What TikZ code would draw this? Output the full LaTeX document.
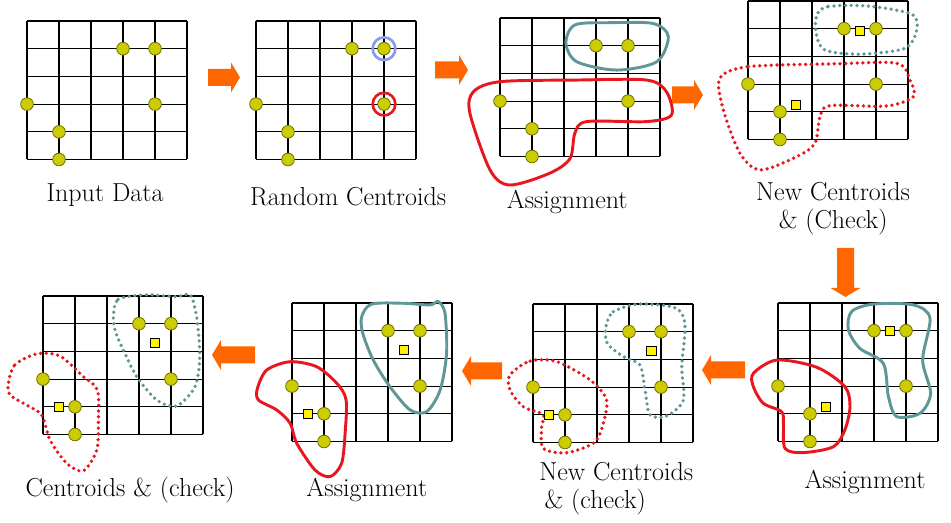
\documentclass[tikz,border=0pt]{standalone}
\usepackage{fontspec}
\usepackage{xcolor}
\usepackage{tikz}

\definecolor{ptfill}{RGB}{204,204,0}
\definecolor{ptline}{RGB}{110,110,0}
\definecolor{clred}{RGB}{232,22,30}
\definecolor{clteal}{RGB}{95,150,150}
\definecolor{clblue}{RGB}{135,155,230}
\definecolor{arrorange}{RGB}{255,102,0}

\tikzset{
  gridline/.style={line width=0.8pt},
  datapt/.style={circle, fill=ptfill, draw=ptline, line width=0.6pt, minimum size=9.5pt, inner sep=0pt},
  centroid/.style={rectangle, fill=yellow, draw=black, line width=0.5pt, minimum size=7pt, inner sep=0pt},
  seedring/.style={circle, draw, line width=2pt, minimum size=17pt, inner sep=0pt},
  cluster/.style={line width=2.2pt, line join=round},
  newcluster/.style={line width=2.8pt, dash pattern=on 0pt off 4.3pt, line cap=round},
  paneltext/.style={font=\fontsize{19.5}{21}\selectfont, align=center},
  pics/fatarrow/.style={code={
    \fill[arrorange] (0,-8.5) -- (#1-9,-8.5) -- (#1-9,-15) -- (#1,0) -- (#1-9,15) -- (#1-9,8.5) -- (0,8.5) -- cycle;}}
}

% 5x5 grid and the six data points of one panel
\newcommand{\kgrid}{\foreach \i in {0,...,5} {\draw[gridline] (\i,0) -- (\i,5); \draw[gridline] (0,\i) -- (5,\i);}}
\newcommand{\kpoints}[1]{\foreach \cx/\cy [count=\k] in {3/1,4/1,0/3,4/3,1/4,1/5} \node[datapt] (#1-\k) at (\cx,\cy) {};}

\begin{document}
\begin{tikzpicture}[x=0.75pt, y=-0.75pt]
    \useasboundingbox (0,0) rectangle (951,523);

    % Input Data
    \begin{scope}[shift={(27,21)}, x=24pt, y=-20.775pt]
        \kgrid
        \kpoints{a}
        \node[paneltext] (ta) at (2.44,6.28) {Input Data};
    \end{scope}

    % Random Centroids
    \begin{scope}[shift={(256,21)}, x=24pt, y=-20.775pt]
        \kgrid
        \kpoints{b}
        \node[seedring, clblue] (sb1) at (b-2) {};
        \node[seedring, clred] (sb2) at (b-4) {};
        \node[paneltext] (tb) at (2.88,6.35) {Random Centroids};
    \end{scope}

    % Assignment
    \begin{scope}[shift={(500,18)}, x=24pt, y=-20.775pt]
        \kgrid
        \draw[cluster, clteal] plot[smooth cycle] coordinates {(2.06,0.91) (2.34,0.25) (3.44,0.17) (4.79,0.2) (5.26,0.67) (4.9,1.58) (3.65,1.88) (2.4,1.58)};
        \draw[cluster, clred] plot[smooth cycle] coordinates {(-0.83,2.66) (0,2.3) (2.4,2.24) (4.58,2.24) (5.2,2.66) (5.36,3.5) (4.58,3.74) (2.71,3.74) (2.34,4.16) (2.19,5.07) (1.56,5.6) (0.31,6.03) (-0.31,5.49) (-0.94,3.44)};
        \kpoints{c}
        \node[paneltext] (tc) at (2.1,6.64) {Assignment};
    \end{scope}

    % New Centroids & (Check)
    \begin{scope}[shift={(748,1)}, x=24pt, y=-20.775pt]
        \kgrid
        \draw[newcluster, clteal] plot[smooth cycle] coordinates {(2.15,0.5) (2.51,0.2) (3.71,0.18) (5.11,0.47) (5.27,1.05) (4.9,1.71) (3.5,1.92) (2.4,1.77) (2.13,1.17)};
        \draw[newcluster, clred] plot[smooth cycle] coordinates {(-0.88,2.79) (0.01,2.37) (2.67,2.27) (4.65,2.25) (5.06,2.85) (5.17,3.45) (4.33,3.79) (2.56,3.78) (2.25,4.18) (2.09,5.14) (1.52,5.62) (0.38,6.1) (-0.25,5.5) (-0.77,3.93)};
        \kpoints{d}
        \node[centroid] (md1) at (3.5,1.08) {};
        \node[centroid] (md2) at (1.5,3.75) {};
        \node[paneltext] (td) at (2.66,7.49) {New Centroids\\\& (Check)};
    \end{scope}

    % Assignment (second round)
    \begin{scope}[shift={(778,303)}, x=24pt, y=-20.775pt]
        \kgrid
        \draw[cluster, clteal] plot[smooth cycle] coordinates {(2.3,0.31) (2.98,0.04) (4.23,0.07) (4.75,0.55) (4.52,2.06) (4.77,3.26) (4.44,3.98) (3.71,4.1) (3.45,3.38) (3.29,2.18) (2.56,1.64) (2.2,0.97)};
        \draw[cluster, clred] plot[smooth cycle] coordinates {(-0.77,2.54) (-0.04,2.06) (1.21,2.32) (2.09,3.02) (2.25,3.74) (2.09,4.58) (1.73,5.19) (0.79,5.4) (0.22,5.25) (0.17,4.34) (0.11,3.92) (-0.46,3.62) (-0.77,3.02)};
        \kpoints{e}
        \node[centroid] (me1) at (3.5,1) {};
        \node[centroid] (me2) at (1.5,3.75) {};
        \node[paneltext] (te) at (2.72,6.46) {Assignment};
    \end{scope}

    % New Centroids & (check)
    \begin{scope}[shift={(533,304)}, x=24pt, y=-20.775pt]
        \kgrid
        \draw[newcluster, clteal] plot[smooth cycle] coordinates {(2.28,0.82) (2.51,0.28) (3.34,0.0) (4.49,0.16) (4.75,0.82) (4.65,2.26) (4.7,3.47) (4.18,4.04) (3.66,4.0) (3.5,3.1) (3.34,2.2) (2.82,1.9) (2.32,1.42)};
        \draw[newcluster, clred] plot[smooth cycle] coordinates {(-0.72,2.56) (-0.09,2.06) (0.74,2.08) (1.78,2.74) (2.3,3.47) (2.15,4.49) (1.88,5.03) (1.05,5.37) (0.32,5.21) (0.27,4.43) (0.32,4.0) (-0.3,3.71) (-0.72,3.1)};
        \kpoints{f}
        \node[centroid] (mf1) at (3.7,1.7) {};
        \node[centroid] (mf2) at (0.5,4) {};
        \node[paneltext, align=left, anchor=west] (tf) at (0.05,6.68) {New Centroids\\\hspace{4pt}\& (check)};
    \end{scope}

    % Assignment (third round)
    \begin{scope}[shift={(292,303)}, x=24pt, y=-20.775pt]
        \kgrid
        \draw[cluster, clteal] plot[smooth cycle] coordinates {(2.18,0.49) (2.49,0.04) (3.48,0.01) (4.31,0.07) (4.57,-0.05) (4.78,0.37) (4.83,1.82) (4.63,3.14) (4.21,3.92) (3.69,3.86) (3.06,3.02) (2.54,2.06) (2.21,1.09)};
        \draw[cluster, clred] plot[smooth cycle] coordinates {(-1.08,3.08) (-0.79,2.42) (-0.06,2.12) (0.77,2.3) (1.4,2.9) (1.69,3.5) (1.66,4.7) (1.55,5.79) (1.19,6.27) (0.72,6.03) (0.15,5.07) (-0.06,4.34) (-0.48,3.86) (-1.05,3.5)};
        \kpoints{g}
        \node[centroid] (mg1) at (3.5,1.7) {};
        \node[centroid] (mg2) at (0.5,4) {};
        \node[paneltext] (tg) at (2.34,6.75) {Assignment};
    \end{scope}

    % Centroids & (check)
    \begin{scope}[shift={(43,296)}, x=24pt, y=-20.775pt]
        \kgrid
        \draw[newcluster, clteal] plot[smooth cycle] coordinates {(2.2,0.75) (2.35,0.12) (3.24,-0.04) (4.18,0.02) (4.6,-0.04) (4.8,0.75) (4.9,2.19) (4.75,3.27) (4.18,3.97) (3.55,3.75) (2.93,2.91) (2.46,1.83) (2.25,1.23)};
        \draw[newcluster, clred] plot[smooth cycle] coordinates {(-1.08,3.15) (-0.88,2.49) (-0.2,2.09) (0.53,2.17) (1.26,2.91) (1.7,3.39) (1.73,4.48) (1.68,5.56) (1.26,6.31) (0.74,6.04) (0.22,5.2) (-0.04,4.3) (-0.51,3.94) (-1.03,3.57)};
        \kpoints{h}
        \node[centroid] (mh1) at (3.5,1.7) {};
        \node[centroid] (mh2) at (0.5,4) {};
        \node[paneltext] (th) at (2.72,7.0) {Centroids \& (check)};
    \end{scope}

    % arrows between the steps
    \pic at (208,77.5) {fatarrow=32};
    \pic at (435,70) {fatarrow=33};
    \pic at (672,95) {fatarrow=31};
    \pic[rotate=-90] at (845.5,248) {fatarrow=49};
    \pic[rotate=180] at (745,370) {fatarrow=43};
    \pic[rotate=180] at (502,371) {fatarrow=40};
    \pic[rotate=180] at (255,355) {fatarrow=43};
\end{tikzpicture}
\end{document}
